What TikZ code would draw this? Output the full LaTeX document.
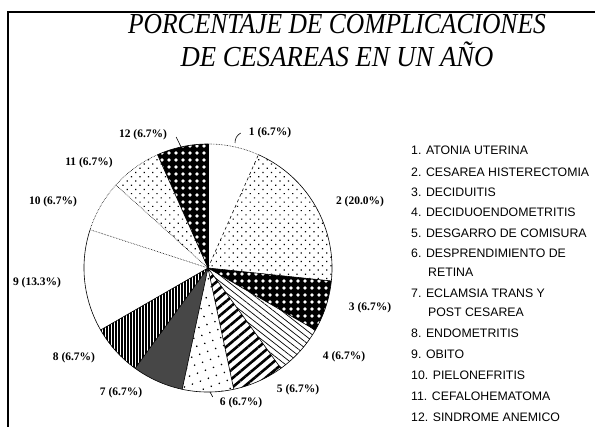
\documentclass[tikz,border=0pt]{standalone}
\usepackage{fontspec}
\setmainfont{Liberation Serif}
\newfontfamily\keyfont{Liberation Sans}
\usetikzlibrary{patterns.meta}
\newcommand{\piesector}[2]{(c) -- +(#1:124) arc[start angle=#1, end angle=#2, radius=124] -- cycle}

\begin{document}
\begin{tikzpicture}[x=1pt,y=1pt]
            \tikzset{
	heading/.style={font=\itshape\fontsize{29}{30}\selectfont, inner sep=0pt},
	pct/.style={font=\bfseries\fontsize{11.5}{13}\selectfont, inner sep=0pt},
	key/.style={font=\keyfont\fontsize{12.3}{14}\selectfont, anchor=west, inner sep=0pt},
	rim/.style={line width=.6pt},
	tick/.style={draw, line width=.6pt},
	finedots/.style={pattern={Dots[angle=45,distance=6pt,radius=.85pt]}},
	sparsedots/.style={pattern={Dots[angle=20,distance=8.5pt,radius=.9pt]}},
	holes/.style={pattern={Dots[distance=6.5pt,radius=2pt]}, pattern color=white},
	thinlines/.style={pattern={Lines[angle=-38,distance=5pt,line width=.7pt]}},
	stripes/.style={pattern={Lines[angle=40,distance=7pt,line width=2.6pt]}},
	bars/.style={pattern={Lines[angle=90,distance=3pt,line width=1pt]}, pattern color=white}
}
\useasboundingbox (0,0) rectangle (595,427);
\draw[line width=1.2pt] (8,0) -- (8,415) -- (595,415);

\node[heading] (t1) at (337,403) {\scalebox{.88}[1]{PORCENTAJE DE COMPLICACIONES}};
\node[heading] (t2) at (337,373) {\scalebox{.92}[1]{DE CESAREAS EN UN AÑO}};

\coordinate (c) at (208,159);
\fill[finedots] \piesector{-6}{66};
\fill[black] \piesector{-30}{-6};
\fill[holes] \piesector{-30}{-6};
\fill[thinlines] \piesector{-54}{-30};
\fill[stripes] \piesector{-78}{-54};
\fill[sparsedots] \piesector{-102}{-78};
\fill[black!72] \piesector{-126}{-102};
\fill[black] \piesector{-150}{-126};
\fill[bars] \piesector{-150}{-126};
\fill[finedots] \piesector{114}{138};
\fill[black] \piesector{90}{114};
\fill[holes] \piesector{90}{114};

\draw[rim] (c) ++(66:124) arc[start angle=66, end angle=-198, radius=124];
\draw[rim] (c) ++(90:124) arc[start angle=90, end angle=114, radius=124];
\draw[rim, densely dotted] (c) ++(66:124) arc[start angle=66, end angle=90, radius=124];
\draw[rim, densely dotted] (c) ++(114:124) arc[start angle=114, end angle=162, radius=124];
\foreach \a in {-6,-30,-54,-78,-102,-126,-150,90,114}
	\draw[rim] (c) -- +(\a:124);
\draw[rim, dashed] (c) -- +(66:124);
\foreach \a in {138,162}
	\draw[rim, densely dotted] (c) -- +(\a:124);

\node[pct] (p1) at (270,294) {1 (6.7\%)};
\node[pct] (p2) at (360,225) {2 (20.0\%)};
\node[pct] (p3) at (370,119) {3 (6.7\%)};
\node[pct] (p4) at (344,70) {4 (6.7\%)};
\node[pct] (p5) at (298,37) {5 (6.7\%)};
\node[pct] (p6) at (241,24) {6 (6.7\%)};
\node[pct] (p7) at (121,34) {7 (6.7\%)};
\node[pct] (p8) at (74,69) {8 (6.7\%)};
\node[pct] (p9) at (37,144) {9 (13.3\%)};
\node[pct] (p10) at (53,225) {10 (6.7\%)};
\node[pct] (p11) at (89,264) {11 (6.7\%)};
\node[pct] (p12) at (143,292) {12 (6.7\%)};

\coordinate (e1) at (235,284);
\coordinate (e6) at (210,35);
\coordinate (e12) at (183,276);
\draw[tick] ([xshift=-8pt]p1.west) to[bend right=30] (e1);
\draw[tick] ([shift={(-7,6)}]p6.west) -- (e6);
\draw[tick] ([shift={(9,-2)}]p12.east) -- (e12);

\foreach \x/\y/\t [count=\i] in {
	411/277/1. ATONIA UTERINA,
	411/255/2. CESAREA HISTERECTOMIA,
	411/235/3. DECIDUITIS,
	411/215/4. DECIDUOENDOMETRITIS,
	411/194/5. DESGARRO DE COMISURA,
	411/174/6. DESPRENDIMIENTO DE,
	428/155/RETINA,
	411/134/7. ECLAMSIA TRANS Y,
	428/115/POST CESAREA,
	411/94/8. ENDOMETRITIS,
	411/73/9. OBITO,
	411/52/10. PIELONEFRITIS,
	411/31/11. CEFALOHEMATOMA,
	411/10/12. SINDROME ANEMICO}
	\node[key] (k\i) at (\x,\y) {\t};
        \end{tikzpicture}
\end{document}
